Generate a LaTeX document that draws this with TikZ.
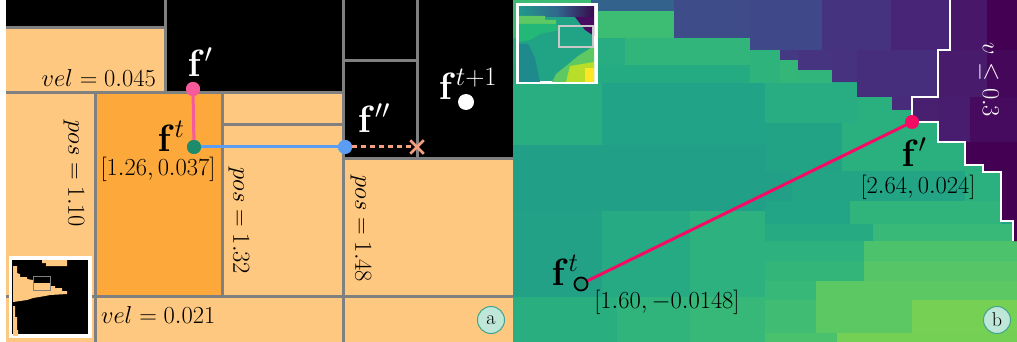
\documentclass[tikz,border=0pt]{standalone}
\usepackage{fix-cm}
\usepackage{xcolor}
\usepackage{tikz}
\usetikzlibrary{positioning,shapes.misc}
\definecolor{trOrange}{HTML}{FFC880}
\definecolor{trOrangeD}{HTML}{FDA83A}
\definecolor{trGrid}{HTML}{808080}
\definecolor{trPink}{HTML}{F75A9B}
\definecolor{trGreen}{HTML}{1E8C6B}
\definecolor{trBlue}{HTML}{5B9CF4}
\definecolor{trSalmon}{HTML}{F4A07F}
\definecolor{trCrimson}{HTML}{F50A64}
\definecolor{trMint}{HTML}{BFE7D9}
\definecolor{trMintD}{HTML}{3FA68C}
\definecolor{trTeal}{HTML}{21A386}
\definecolor{trPurple}{HTML}{470D60}
\definecolor{trDot}{HTML}{1F8E70}
\definecolor{trInTop}{HTML}{1F9A8A}
\definecolor{trInMid}{HTML}{31688E}
\definecolor{trInGreen}{HTML}{23B877}
\definecolor{trInLime}{HTML}{5EC962}
\definecolor{trInDeep}{HTML}{1F8A8C}
\definecolor{trInLight}{HTML}{5EC962}
\definecolor{trInYG}{HTML}{B8DE29}
\definecolor{trInYel}{HTML}{FDE725}
\definecolor{trInBox}{HTML}{C8C8C8}
\tikzset{
  tr-grid/.style={draw=trGrid, line width=3pt},
  tr-val/.style={font=\fontsize{24.5}{28}\selectfont, inner sep=1pt},
  tr-sym/.style={font=\fontsize{38}{40}\selectfont, inner sep=1pt},
  tr-dot/.style={circle, inner sep=0pt, minimum size=14pt},
  tr-tag/.style={circle, draw=trMintD, fill=trMint, line width=1pt,
    minimum size=27pt, inner sep=0pt, font=\fontsize{20}{22}\selectfont},
  tr-inset/.style={draw=white, line width=2.5pt}
}

\begin{document}
\begin{tikzpicture}[x=1pt, y=-1pt]
\useasboundingbox (0,0) rectangle (1017,342);

% (a) tree cells
\fill[white] (0,0) rectangle (6,342);
\fill[black] (6,0) rectangle (513,158);
\fill[trOrange] (6,28) rectangle (165,93);
\fill[trOrange] (6,93) rectangle (343,342);
\fill[trOrange] (343,158) rectangle (513,342);
\fill[trOrangeD] (95,93) rectangle (222,296);
\draw[tr-grid] (6,28) -- (165,28);
\draw[tr-grid] (165,0) -- (165,93);
\draw[tr-grid] (6,93) -- (343,93);
\draw[tr-grid] (343,0) -- (343,342);
\draw[tr-grid] (417,0) -- (417,158);
\draw[tr-grid] (343,61) -- (417,61);
\draw[tr-grid] (343,158) -- (513,158);
\draw[tr-grid] (95,93) -- (95,342);
\draw[tr-grid] (222,93) -- (222,296);
\draw[tr-grid] (222,125) -- (343,125);
\draw[tr-grid] (6,296) -- (513,296);

\node[tr-val, anchor=east] (vel1) at (157,78) {$vel=0.045$};
\node[tr-val, anchor=west] (vel2) at (100,315) {$vel=0.021$};
\node[tr-val, rotate=-90] (pos1) at (74,174) {$pos=1.10$};
\node[tr-val, rotate=-90] (pos2) at (239,221) {$pos=1.32$};
\node[tr-val, rotate=-90] (pos3) at (361,229) {$pos=1.48$};

\node[tr-dot, fill=trPink] (pdot) at (193,89) {};
\node[tr-dot, fill=trGreen] (gdot) at (194,147) {};
\node[tr-dot, fill=trBlue] (bdot) at (345,147) {};
\node[cross out, draw=trSalmon, line width=2.5pt, minimum size=11pt,
  inner sep=0pt] (xmark) at (417,147) {};
\node[tr-dot, fill=white, minimum size=16pt] (ndot) at (466,102) {};
\draw[trPink, line width=3pt] (gdot.center) -- (pdot.center);
\draw[trBlue, line width=3pt] (gdot.center) -- (bdot.center);
\draw[trSalmon, line width=3pt, dash pattern=on 5pt off 4pt] (bdot.east) -- (xmark.center);
\node[tr-dot, fill=trPink] at (pdot) {};
\node[tr-dot, fill=trGreen] at (gdot) {};
\node[tr-dot, fill=trBlue] at (bdot) {};

\node[tr-sym, text=white] (fp) at (200,62) {$\mathbf{f}'$};
\node[tr-sym] (ft) at (171,136) {$\mathbf{f}^{t}$};
\node[tr-val] (ftval) at (158,169) {$[1.26, 0.037]$};
\node[tr-sym, text=white] (fpp) at (374,118) {$\mathbf{f}''$};
\node[tr-sym, text=white] (fnext) at (468,84) {$\mathbf{f}^{t+1}$};

\node[tr-inset, fill=black, minimum width=78pt, minimum height=77pt,
  inner sep=0pt] (insetA) at (50,297) {};
\fill[trOrange] (42,260) -- (67,260) -- (67,266) -- (46,266) -- (46,263) -- (42,263) -- cycle;
\fill[trOrange] (13,266) -- (17,266) -- (17,273) -- (20,274) -- (20,277) -- (27,277)
  -- (27,279) -- (33,280) -- (33,283) -- (50,283) -- (50,286) -- (55,286) -- (55,288)
  -- (62,288) -- (62,291) -- (67,291) -- (67,294) -- (50,295) -- (45,296) -- (33,298)
  -- (27,300) -- (20,301) -- (13,302) -- cycle;
\fill[trOrange] (13,306) -- (15,306) -- (15,317) -- (17,317) -- (17,330) -- (18,330)
  -- (18,336) -- (13,336) -- cycle;
\draw[trGrid, line width=1pt] (33,276) rectangle (50,290);
\draw[tr-inset] (insetA.north west) rectangle (insetA.south east);

\node[tr-tag] (tagA) at (491,320) {a};

% (b) value map
\fill[trTeal] (513,0) rectangle (1017,342);
\foreach \xa/\ya/\xb/\yb/\hc in {
  513/0/591/38/3DBC74, 591/0/674/11/33638D, 591/11/674/38/3DBC74,
  674/0/750/38/3E4C8A, 750/0/822/50/3F4889, 822/0/891/50/46337F,
  891/0/950/50/482576, 513/38/625/65/27AD81, 625/38/750/65/31B57B,
  513/65/765/83/25AB82, 750/50/780/83/2EB37C, 780/50/798/60/443A83,
  780/60/798/83/34B679, 798/50/832/70/463480, 798/70/832/83/31B57B,
  832/50/857/82/46327E, 857/50/938/97/472E7C, 513/83/602/145/28AE80,
  602/83/765/145/20A386, 765/83/857/123/27AD81, 857/97/912/123/2AAF7F,
  892/97/912/110/482C7B, 765/123/842/171/22A385, 842/123/1000/175/2AAF7F,
  513/145/765/211/21A087, 513/211/602/297/22A186, 602/211/690/297/26AA83,
  690/211/765/297/2DB17E, 513/297/617/342/29AE80, 617/297/690/342/30B47C,
  690/297/765/342/37B878, 765/171/792/201/21A087, 792/171/965/201/23A485,
  965/171/1001/201/2BB07F, 765/201/850/224/22A486, 850/201/1001/224/30B47C,
  765/224/873/241/26AA82, 873/224/1017/241/39B977, 765/241/864/261/2DB17E,
  864/241/1017/261/4CC26C, 765/261/864/281/33B57A, 864/261/1017/281/55C568,
  765/281/816/300/38B878, 816/281/1017/300/5BC863, 765/300/816/333/40BD72,
  816/300/912/333/5CC863, 912/300/1017/333/75D054, 765/333/837/342/4AC16D,
  837/333/1017/342/74D055}
{
  \definecolor{cellc}{HTML}{\hc}
  \fill[cellc] (\xa,\ya) rectangle (\xb,\yb);
}
\begin{scope}
  \clip (950,0) -- (950,50) -- (938,50) -- (938,97) -- (912,97) -- (912,122)
    -- (938,122) -- (938,142) -- (965,142) -- (965,165) -- (983,165) -- (983,172)
    -- (1001,172) -- (1001,221) -- (1013,221) -- (1013,241) -- (1017,241)
    -- (1017,0) -- cycle;
  \fill[trPurple] (900,0) rectangle (1017,260);
  \foreach \xa/\ya/\xb/\yb/\hc in {
    950/0/987/50/481769, 987/0/1017/50/440154, 938/50/987/97/481B6D,
    987/50/1017/97/45075A, 912/97/938/122/48206F, 938/97/970/142/481D6F,
    970/97/1017/142/460B5E, 965/142/1017/260/440154}
  {
    \definecolor{cellc}{HTML}{\hc}
    \fill[cellc] (\xa,\ya) rectangle (\xb,\yb);
  }
\end{scope}
\draw[white, line width=2.5pt] (950,0) -- (950,50) -- (938,50) -- (938,97) -- (912,97)
  -- (912,122) -- (938,122) -- (938,142) -- (965,142) -- (965,165) -- (983,165)
  -- (983,172) -- (1001,172) -- (1001,221) -- (1013,221) -- (1013,241);

\node[tr-val, text=white, rotate=-90] (vlim) at (989,80) {$v\leq 0.3$};

\node[tr-dot, fill=trCrimson] (qdot) at (912,122) {};
\node[tr-dot, draw=black, line width=1.8pt, fill=trDot, minimum size=13pt] (sdot) at (581,284) {};
\draw[trCrimson, line width=3pt] (sdot) -- (qdot.center);
\node[tr-sym] (fpb) at (914,152) {$\mathbf{f}'$};
\node[tr-val] (fpbval) at (918,187) {$[2.64, 0.024]$};
\node[tr-sym] (ftb) at (565,270) {$\mathbf{f}^{t}$};
\node[tr-val] (ftbval) at (667,302) {$[1.60, -0.0148]$};

\node[tr-inset, fill=trTeal, minimum width=77pt, minimum height=76pt,
  inner sep=0pt] (insetB) at (556.5,44) {};
\shade[left color=trInTop, right color=black!20!trPurple, middle color=trInMid] (519,7) rectangle (594,17);
\fill[trTeal] (519,17) rectangle (594,26);
\fill[trInLime] (519,16) -- (545,16) -- (545,20) -- (556,20) -- (556,24) -- (519,24) -- cycle;
\fill[trInGreen] (519,24) -- (556,24) -- (560,30) -- (540,34) -- (530,40) -- (519,42) -- cycle;
\fill[trPurple] (575,17) -- (594,17) -- (594,36) -- (585,30) -- cycle;
\fill[trInDeep] (519,44) -- (528,44) -- (535,58) -- (540,82) -- (519,82) -- cycle;
\fill[trInLight] (594,46) -- (594,82) -- (552,82) -- (556,74) -- (566,66) -- (578,56) -- cycle;
\fill[trInYG] (570,66) -- (594,62) -- (594,82) -- (566,82) -- cycle;
\fill[trInYel] (585,68) rectangle (594,82);
\draw[trInBox, line width=1.5pt] (559,26) rectangle (593,47);
\draw[tr-inset] (insetB.north west) rectangle (insetB.south east);

\node[tr-tag] (tagB) at (997,320) {b};
\end{tikzpicture}
\end{document}
